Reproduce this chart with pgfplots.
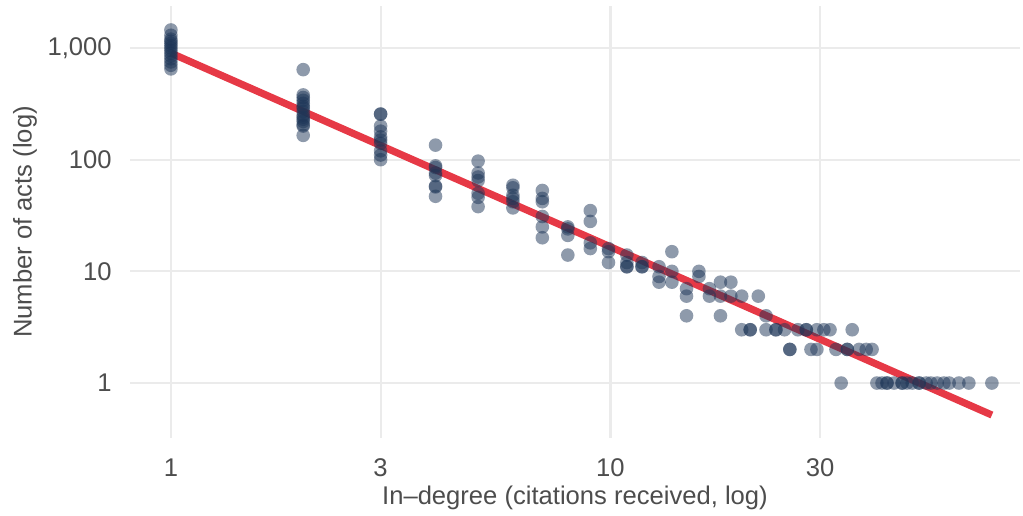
\documentclass[border=0pt]{standalone}
\usepackage{fontspec}
\setmainfont{Liberation Sans}
\usepackage{pgfplots}
\pgfplotsset{compat=1.18}

\definecolor{navy}{HTML}{1D3557}
\definecolor{fitred}{HTML}{E63946}
\definecolor{gridgray}{HTML}{EBEBEB}
\definecolor{txtgray}{HTML}{4D4D4D}

\begin{document}
\begin{tikzpicture}
\path[use as bounding box] (-65pt,-38.5pt) rectangle (446.5pt,219pt);
\begin{axis}[
	at={(0,0)}, anchor=south west,
	scale only axis,
	width=445pt, height=216pt,
	xmode=log, ymode=log,
	xmin=0.807, xmax=85.5,
	ymin=0.322, ymax=2377,
	xtick={1,3,10,30}, xticklabels={1,3,10,30},
	ytick={1,10,100,1000}, yticklabels={1,10,100,{1,000}},
	minor xtick={}, minor ytick={},
	axis line style={draw=none},
	major tick length=0pt, minor tick length=0pt,
	tick style={draw=none},
	grid=major,
	major grid style={gridgray, line width=1.1pt},
	tick label style={font=\fontsize{12.8}{14}\selectfont, text=txtgray, inner sep=0pt},
	yticklabel style={anchor=east, xshift=-9pt},
	xticklabel style={anchor=north, yshift=-10pt},
	label style={font=\fontsize{12.8}{14}\selectfont, text=txtgray},
	xlabel={In\textendash degree (citations received, log)},
	ylabel={Number of acts (log)},
	xlabel style={at={(axis description cs:0.5,-0.139)}, anchor=center},
	ylabel style={at={(axis description cs:-0.118,0.5)}, anchor=center},
	]
% acts per in-degree value
\addplot [only marks, mark=*, mark size=3.4pt, color=navy,
	mark options={draw opacity=0, fill=navy, fill opacity=0.5}]
coordinates {
(1,1450) (1,1300) (1,1200) (1,1150) (1,1100) (1,1050) (1,1000) (1,950) (1,900) (1,850) (1,800) (1,750) (1,700) (1,650)
(2,640) (2,380) (2,360) (2,340) (2,320) (2,300) (2,290) (2,270) (2,250) (2,240) (2,230) (2,220) (2,205) (2,200) (2,165)
(3,256) (3,256) (3,200) (3,180) (3,160) (3,150) (3,140) (3,120) (3,110) (3,100)
(4,135) (4,88) (4,85) (4,76) (4,72) (4,58) (4,57) (4,47)
(5,97) (5,76) (5,70) (5,65) (5,50) (5,46) (5,38)
(6,59) (6,56) (6,48) (6,45) (6,42) (6,37)
(7,53) (7,45) (7,42) (7,31) (7,25) (7,20)
(8,25) (8,24) (8,21) (8,14)
(9,35) (9,28) (9,18) (9,16)
(9.9,16) (9.9,15) (9.9,12)
(10.9,14) (10.9,12) (10.9,11) (10.9,11)
(11.8,12) (11.8,11) (11.8,11)
(12.9,11) (12.9,9) (12.9,8)
(13.8,15) (13.8,10) (13.8,8)
(14.9,7) (14.9,6) (14.9,4)
(15.9,10) (15.9,9)
(16.8,7) (16.8,6)
(17.8,8) (17.8,6) (17.8,4)
(18.8,8) (18.8,6)
(19.9,6) (19.9,3)
(20.8,3) (20.8,3)
(21.7,6)
(22.6,4) (22.6,3)
(23.8,3) (23.8,3)
(24.9,3)
(25.6,2) (25.6,2)
(26.7,3)
(27.9,3) (27.9,3)
(28.6,2)
(29.5,3) (29.5,2)
(30.6,3)
(31.6,3)
(32.6,2)
(33.5,1)
(34.6,2) (34.6,2)
(35.5,3)
(36.8,2)
(38.2,2)
(39.4,2)
(40.4,1) (41.5,1) (42.6,1) (42.6,1) (44.2,1) (46.1,1) (46.1,1) (47.3,1) (48.6,1)
(50.4,1) (50.4,1) (52.3,1) (53.6,1) (55.4,1) (57.4,1) (59,1) (62.1,1) (65.4,1) (73.8,1)
};
% fitted power law
\addplot [fitred, line width=3.6pt]
coordinates {
(1,900) (73.8,0.517)
};
\end{axis}
\end{tikzpicture}
\end{document}
